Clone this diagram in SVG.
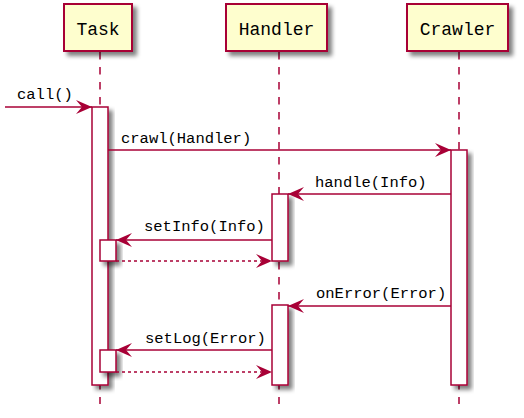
<svg xmlns="http://www.w3.org/2000/svg" width="524" height="418" viewBox="0 0 524 418">
<style>
.box{fill:#FEFECE;stroke:#A80036;stroke-width:2}
.act{fill:#FFFFFF;stroke:#A80036;stroke-width:1.5}
.life{stroke:#A80036;stroke-width:1.5;stroke-dasharray:7.5,7.5;fill:none}
.msg{stroke:#A80036;stroke-width:1.5;fill:none}
.ret{stroke:#A80036;stroke-width:1.5;fill:none;stroke-dasharray:3,3}
.title{font-family:"Liberation Mono","DejaVu Sans Mono",monospace;font-size:18px;fill:#000}
.lbl{font-family:"Liberation Mono","DejaVu Sans Mono",monospace;font-size:15.5px;fill:#000}
</style>
<defs>
<filter id="sh" x="-20%" y="-20%" width="160%" height="160%">
<feGaussianBlur in="SourceAlpha" stdDeviation="2"/>
<feOffset dx="4" dy="4" result="o"/>
<feComponentTransfer><feFuncA type="linear" slope="0.5"/></feComponentTransfer>
<feMerge><feMergeNode/><feMergeNode in="SourceGraphic"/></feMerge>
</filter>
<marker id="ah" markerUnits="userSpaceOnUse" markerWidth="17" markerHeight="15" refX="16" refY="7" orient="auto">
<path d="M0,0 L16,7 L0,14 L6,7 Z" fill="#A80036"/>
</marker>
</defs>
<g id="lifelines">
<line class="life" x1="100" y1="52" x2="100" y2="404"/>
<line class="life" x1="279" y1="52" x2="279" y2="404"/>
<line class="life" x1="459" y1="52" x2="459" y2="404"/>
</g>
<g id="Task">
<rect class="box" x="64" y="4" width="68" height="47" filter="url(#sh)"/>
<text class="title" x="98" y="35" text-anchor="middle">Task</text>
</g>
<g id="Handler">
<rect class="box" x="226" y="4" width="101" height="47" filter="url(#sh)"/>
<text class="title" x="276.5" y="35" text-anchor="middle">Handler</text>
</g>
<g id="Crawler">
<rect class="box" x="407" y="4" width="101" height="47" filter="url(#sh)"/>
<text class="title" x="457.5" y="35" text-anchor="middle">Crawler</text>
</g>
<g id="activations">
<rect class="act" x="92" y="107" width="16" height="278" filter="url(#sh)"/>
<rect class="act" x="451" y="150" width="16" height="235" filter="url(#sh)"/>
<rect class="act" x="272" y="194" width="16" height="67" filter="url(#sh)"/>
<rect class="act" x="100" y="240" width="16" height="21" filter="url(#sh)"/>
<rect class="act" x="272" y="305" width="16" height="80" filter="url(#sh)"/>
<rect class="act" x="100" y="350" width="16" height="22" filter="url(#sh)"/>
</g>
<g id="connectors">
<line class="msg" x1="5" y1="107" x2="92" y2="107" marker-end="url(#ah)"/>
<text class="lbl" x="17" y="99">call()</text>
<line class="msg" x1="108" y1="150" x2="451" y2="150" marker-end="url(#ah)"/>
<text class="lbl" x="121" y="143">crawl(Handler)</text>
<line class="msg" x1="451" y1="194" x2="288" y2="194" marker-end="url(#ah)"/>
<text class="lbl" x="315" y="187">handle(Info)</text>
<line class="msg" x1="272" y1="240" x2="116" y2="240" marker-end="url(#ah)"/>
<text class="lbl" x="144" y="231">setInfo(Info)</text>
<line class="ret" x1="116" y1="261" x2="272" y2="261" marker-end="url(#ah)"/>
<line class="msg" x1="451" y1="306" x2="288" y2="306" marker-end="url(#ah)"/>
<text class="lbl" x="316" y="298">onError(Error)</text>
<line class="msg" x1="272" y1="350" x2="116" y2="350" marker-end="url(#ah)"/>
<text class="lbl" x="145" y="343">setLog(Error)</text>
<line class="ret" x1="116" y1="372" x2="272" y2="372" marker-end="url(#ah)"/>
</g>
</svg>
